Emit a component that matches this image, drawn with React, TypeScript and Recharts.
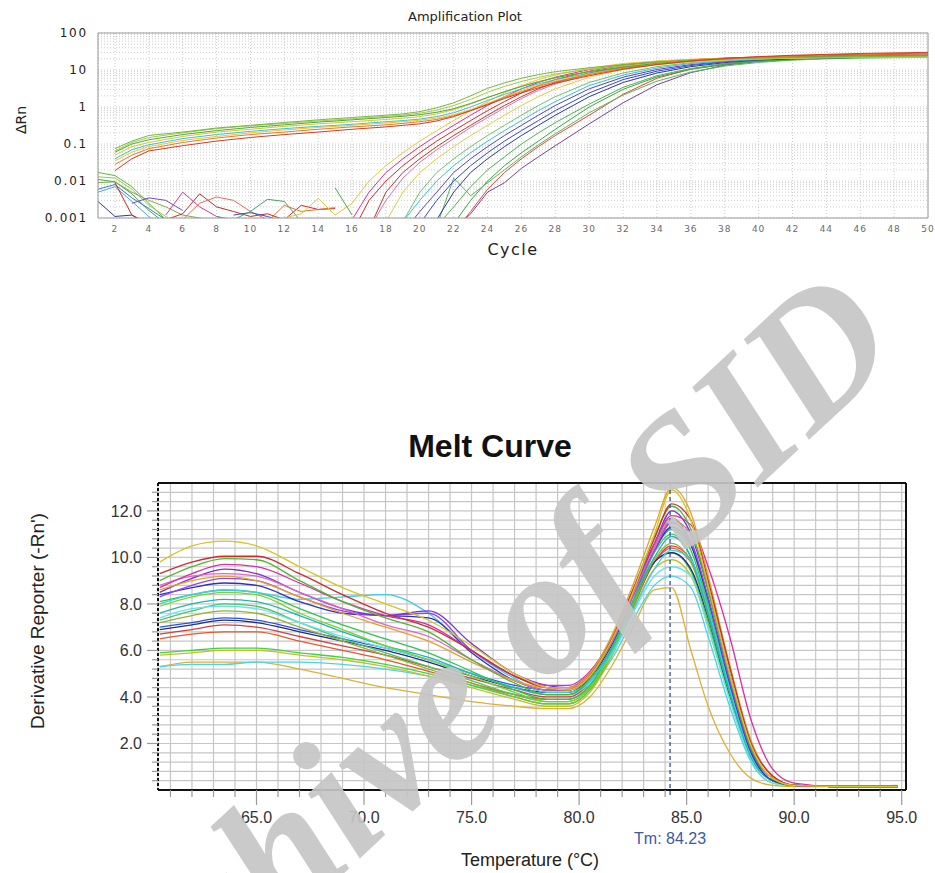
import React from "react";
import { LineChart, Line, XAxis, YAxis, CartesianGrid, ReferenceLine } from "recharts";

// ---------- Amplification plot (ΔRn vs cycle, log scale) ----------
const ampBaseCycles = [2, 3, 4, 6, 8, 10, 12, 14, 16, 18, 19, 20, 21, 22, 23, 24, 25, 26, 27, 28, 30, 32, 34, 36, 38, 40, 42, 44, 46, 48, 50];
const ampExpCycles = [16, 17, 18, 19, 20, 21, 22, 23, 24, 25, 26, 27, 28, 30, 32, 34, 36, 38, 40, 42, 44, 46, 48, 50];
const ampNoiseCycles = [1, 2, 3, 4, 5, 6, 7, 8, 9, 10, 11, 12, 13, 14, 15, 16];

// wells with a raised baseline (start at cycle 2)
const baseGreen1 = [0.075, 0.12, 0.17, 0.21, 0.27, 0.32, 0.38, 0.45, 0.52, 0.6, 0.65, 0.75, 0.95, 1.3, 2.0, 3.2, 4.5, 6.0, 7.5, 9.0, 11.5, 14, 16.5, 18.5, 20, 21, 22, 22.5, 23, 23.5, 24];
const baseGreen2 = [0.06, 0.1, 0.13, 0.18, 0.23, 0.28, 0.33, 0.39, 0.45, 0.52, 0.56, 0.62, 0.72, 0.9, 1.25, 1.8, 2.6, 3.6, 4.8, 6.2, 9.0, 12, 15, 18, 20, 21.5, 22.5, 23.5, 24, 24.5, 25];
const baseYellow1 = [0.05, 0.085, 0.11, 0.16, 0.21, 0.25, 0.3, 0.35, 0.4, 0.46, 0.5, 0.55, 0.65, 0.85, 1.2, 1.8, 2.6, 3.6, 4.8, 6.2, 9.0, 12.5, 15.5, 18, 19.5, 20.5, 21, 21.5, 22, 22, 22.5];
const baseCyan = [0.04, 0.07, 0.095, 0.14, 0.18, 0.22, 0.26, 0.3, 0.34, 0.4, 0.43, 0.47, 0.55, 0.7, 1.0, 1.5, 2.2, 3.1, 4.2, 5.5, 8.2, 11.5, 14.5, 17, 19, 20.5, 21.5, 22, 22.5, 23, 23.5];
const baseYellow2 = [0.035, 0.06, 0.085, 0.125, 0.16, 0.2, 0.24, 0.28, 0.32, 0.37, 0.4, 0.44, 0.5, 0.62, 0.85, 1.25, 1.9, 2.8, 3.9, 5.1, 7.8, 11, 14, 16.5, 18.5, 20, 21, 21.5, 22, 22.5, 22.5];
const baseOrange = [0.028, 0.05, 0.075, 0.11, 0.145, 0.18, 0.21, 0.25, 0.29, 0.33, 0.36, 0.4, 0.46, 0.58, 0.8, 1.2, 1.8, 2.6, 3.6, 4.8, 7.5, 11, 14.5, 17.5, 20, 22, 23.5, 25, 26, 27, 28];
const baseRed = [0.019, 0.04, 0.065, 0.09, 0.12, 0.15, 0.18, 0.21, 0.25, 0.29, 0.32, 0.35, 0.42, 0.55, 0.8, 1.15, 1.7, 2.4, 3.3, 4.4, 7.0, 10.5, 14, 17.5, 20.5, 23, 25, 26.5, 28, 29, 30];
const baseLime = [0.065, 0.11, 0.15, 0.2, 0.26, 0.31, 0.36, 0.42, 0.48, 0.56, 0.6, 0.68, 0.82, 1.1, 1.6, 2.5, 3.6, 4.9, 6.3, 7.8, 10.5, 13, 15.5, 17.5, 19, 20, 21, 21.5, 22, 22.5, 23];

// wells rising out of the noise floor
const expYellow1 = [0.0025, 0.01, 0.026, 0.058, 0.12, 0.23, 0.43, 0.8, 1.4, 2.4, 3.8, 5.5, 7.3, 11.3, 15, 17.5, 19.5, 20.5, 21, 21.5, 22, 22, 22.5, 22.5];
const expMagenta = [0.0009, 0.005, 0.017, 0.04, 0.085, 0.17, 0.32, 0.6, 1.1, 1.9, 3.1, 4.6, 6.4, 10.3, 14, 17, 19, 20.5, 21.5, 22.5, 23, 23.5, 24, 24.5];
const expRed1 = [0.0004, 0.003, 0.01, 0.026, 0.058, 0.12, 0.23, 0.43, 0.8, 1.4, 2.4, 3.8, 5.5, 9.3, 13.2, 16.5, 19, 21, 22.5, 24, 25.5, 26.5, 27.5, 28.5];
const expRed2 = [null, 0.0005, 0.005, 0.017, 0.04, 0.085, 0.17, 0.32, 0.6, 1.1, 1.9, 3.1, 4.6, 8.3, 12.3, 15.8, 18.5, 20.5, 22, 23.5, 24.5, 25.5, 26.5, 27];
const expPink = [null, 0.0005, 0.003, 0.012, 0.032, 0.07, 0.14, 0.28, 0.52, 0.95, 1.7, 2.8, 4.2, 7.8, 11.8, 15.4, 18.2, 20, 21.5, 22.5, 23.5, 24, 24.5, 25];
const expYellow2 = [null, null, 0.0008, 0.005, 0.017, 0.04, 0.085, 0.17, 0.32, 0.6, 1.1, 1.9, 3.1, 6.4, 10.3, 14, 17, 19, 20.5, 21.5, 22, 22.5, 23, 23];
const expCyan = [null, null, null, 0.0008, 0.003, 0.01, 0.026, 0.058, 0.12, 0.23, 0.43, 0.8, 1.4, 3.8, 7.3, 11.3, 15, 17.5, 19.5, 21, 22, 22.5, 23, 23.5];
const expGreen1 = [null, null, null, 0.0008, 0.005, 0.017, 0.04, 0.085, 0.17, 0.32, 0.6, 1.1, 1.9, 4.6, 8.3, 12.3, 15.8, 18.5, 20, 21, 22, 22.5, 23, 23];
const expBlue = [null, null, null, null, 0.0007, 0.003, 0.01, 0.026, 0.058, 0.12, 0.23, 0.43, 0.8, 2.4, 5.5, 9.3, 13.2, 16.5, 19, 20.5, 21.5, 22, 22.5, 23];
const expNavy = [null, null, null, null, null, 0.0009, 0.005, 0.017, 0.04, 0.085, 0.17, 0.32, 0.6, 1.9, 4.6, 8.3, 12.3, 15.8, 18.5, 20, 21, 22, 22.5, 23];
const expViolet = [null, null, null, 0.0004, 0.0015, 0.005, 0.017, 0.04, 0.085, 0.17, 0.32, 0.6, 1.1, 3.1, 6.4, 10.3, 14, 17, 19.5, 21, 22, 22.5, 23, 23.5];
const expGreen2 = [null, null, null, null, null, null, 0.0007, 0.003, 0.01, 0.026, 0.058, 0.12, 0.25, 1.0, 3.0, 6.5, 10.5, 14, 17, 19, 20.5, 21.5, 22, 22.5];
const expGreen3 = [null, null, null, null, null, 0.0006, 0.012, 0.004, 0.009, 0.02, 0.045, 0.095, 0.19, 0.7, 2.1, 5.0, 8.8, 12.8, 16, 18.5, 20, 21, 21.5, 22];
const expGreen4 = [null, null, null, null, null, 0.0006, 0.002, 0.007, 0.02, 0.045, 0.1, 0.2, 0.38, 1.2, 3.4, 7, 11, 14.8, 17.5, 19.5, 21, 22, 22.5, 23];
const expRed3 = [null, null, null, null, null, null, 0.0004, 0.0015, 0.006, 0.017, 0.04, 0.085, 0.17, 0.6, 2.2, 6.0, 10.5, 14.5, 17.5, 19.5, 21, 22, 22.5, 23];
const expPurple = [null, null, null, null, null, null, 0.0005, 0.0013, 0.005, 0.009, 0.022, 0.045, 0.09, 0.35, 1.3, 4.0, 8.5, 13.5, 17, 19.5, 21, 22, 22.5, 23];

// noise near the floor, cycles 1-16
const noiseGreen1 = [0.017, 0.014, 0.007, 0.0025, 0.0009, null, null, null, null, null, null, null, null, null, null, null];
const noiseLime = [0.013, 0.012, 0.006, 0.0022, 0.0011, 0.0006, null, null, null, null, null, null, null, null, null, null];
const noiseGreen2 = [0.011, 0.0095, 0.0045, 0.0016, 0.0007, null, null, null, null, null, null, null, null, null, null, null];
const noiseOlive = [0.009, 0.0095, 0.005, 0.003, 0.002, 0.0012, 0.001, 0.0008, null, null, null, null, null, null, null, null];
const noiseBlue1 = [0.006, 0.008, 0.0035, 0.0018, 0.0009, null, null, null, null, null, null, null, null, null, null, null];
const noiseSky = [0.005, 0.007, 0.0028, 0.0011, 0.0005, null, null, null, null, null, null, null, null, null, null, null];
const noiseNavy = [0.0028, 0.0011, 0.0012, 0.0007, null, null, null, null, null, null, null, null, null, null, null, null];
const noisePurple = [null, null, 0.0025, 0.0035, 0.003, 0.0016, null, null, null, null, null, null, null, null, null, null];
const noiseRed = [null, 0.009, 0.0012, 0.0006, 0.0009, 0.0013, 0.0045, 0.002, 0.0015, 0.0011, 0.0013, 0.0009, 0.0022, 0.0017, 0.0018, null];
const noiseMagenta = [null, null, null, null, 0.0012, 0.005, 0.002, 0.0011, 0.0008, null, null, null, null, null, null, null];
const noiseSalmon = [null, null, null, null, null, 0.0009, 0.0025, 0.0037, 0.003, 0.0015, 0.0009, null, null, null, null, null];
const noiseBlue2 = [null, null, null, null, null, null, null, null, 0.0012, 0.0014, 0.0011, 0.0008, null, null, null, null];
const noiseTeal = [null, null, null, null, null, null, null, 0.0011, 0.0009, 0.0015, 0.0032, 0.0028, 0.0008, null, null, null];
const noiseOrange = [null, null, null, null, null, null, null, null, null, null, 0.0008, 0.0022, 0.0015, 0.0017, 0.0019, null];
const noiseYellow = [null, null, null, null, null, null, null, null, null, null, null, 0.001, 0.0013, 0.0034, 0.0012, 0.0025];
const noiseGreen3 = [null, null, null, null, null, null, null, null, null, null, null, null, null, null, 0.0065, 0.0012];

const ampXTicks = [2, 4, 6, 8, 10, 12, 14, 16, 18, 20, 22, 24, 26, 28, 30, 32, 34, 36, 38, 40, 42, 44, 46, 48, 50];
const ampYTicks = [
  0.001, 0.002, 0.003, 0.004, 0.005, 0.006, 0.007, 0.008, 0.009,
  0.01, 0.02, 0.03, 0.04, 0.05, 0.06, 0.07, 0.08, 0.09,
  0.1, 0.2, 0.3, 0.4, 0.5, 0.6, 0.7, 0.8, 0.9,
  1, 2, 3, 4, 5, 6, 7, 8, 9,
  10, 20, 30, 40, 50, 60, 70, 80, 90, 100,
];
const ampYLabels = [0.001, 0.01, 0.1, 1, 10, 100];

// ---------- Melt curve (-Rn' vs temperature) ----------
const meltTemps = [60.5, 62, 63.5, 65, 67, 69, 71, 73, 75, 77, 78.5, 79.5, 80.5, 81.5, 82.5, 83.5, 84.3, 85.2, 86, 87, 88, 89, 90, 92, 94.8];

const meltYellow1 = [9.8, 10.5, 10.7, 10.5, 9.6, 8.7, 8.0, 7.3, 6.2, 5.0, 4.4, 4.3, 4.9, 6.4, 8.5, 11.0, 12.9, 11.6, 8.8, 5.0, 1.9, 0.5, 0.2, 0.15, 0.15];
const meltRed1 = [9.3, 9.8, 10.05, 10.05, 9.3, 8.4, 7.6, 7.0, 6.0, 4.9, 4.4, 4.3, 4.9, 6.4, 8.6, 10.8, 12.3, 11.6, 9.0, 5.3, 2.0, 0.6, 0.2, 0.15, 0.15];
const meltGreen1 = [9.0, 9.6, 9.95, 9.9, 9.0, 8.1, 7.4, 6.8, 5.6, 4.6, 4.1, 4.1, 4.8, 6.4, 8.6, 10.9, 12.2, 11.2, 8.6, 4.9, 1.8, 0.5, 0.2, 0.15, 0.15];
const meltMagenta = [8.7, 9.3, 9.7, 9.6, 8.9, 8.1, 7.5, 7.1, 6.0, 4.9, 4.5, 4.5, 5.1, 6.5, 8.6, 10.6, 11.8, 11.4, 9.6, 6.6, 3.0, 0.9, 0.3, 0.15, 0.15];
const meltPurple = [8.5, 9.1, 9.5, 9.3, 8.5, 7.8, 7.5, 7.7, 6.3, 5.0, 4.5, 4.4, 5.0, 6.4, 8.5, 10.6, 12.0, 11.0, 8.6, 5.0, 1.8, 0.5, 0.2, 0.15, 0.15];
const meltViolet = [8.3, 8.8, 9.1, 9.0, 8.3, 7.7, 7.5, 7.6, 6.0, 4.9, 4.4, 4.4, 5.0, 6.3, 8.3, 10.3, 11.5, 10.7, 8.3, 4.7, 1.7, 0.5, 0.2, 0.15, 0.15];
const meltBlue1 = [8.4, 8.7, 8.9, 8.8, 8.1, 7.6, 7.5, 7.4, 5.9, 4.7, 4.3, 4.3, 4.9, 6.3, 8.4, 10.3, 11.3, 10.5, 8.2, 4.6, 1.6, 0.4, 0.2, 0.15, 0.15];
const meltCyan1 = [8.0, 8.4, 8.6, 8.5, 8.2, 8.3, 8.4, 7.6, 6.0, 4.8, 4.2, 4.2, 4.7, 5.9, 7.7, 9.5, 10.3, 9.9, 7.8, 4.4, 1.5, 0.4, 0.2, 0.15, 0.15];
const meltPink = [8.8, 9.2, 9.3, 9.2, 8.5, 7.8, 7.1, 6.6, 5.6, 4.7, 4.3, 4.3, 4.9, 6.3, 8.4, 10.4, 11.6, 11.0, 8.8, 5.3, 2.1, 0.6, 0.2, 0.15, 0.15];
const meltGreen2 = [8.1, 8.4, 8.6, 8.5, 7.8, 7.1, 6.5, 5.9, 5.1, 4.3, 3.9, 3.9, 4.5, 6.0, 8.1, 10.3, 11.2, 10.3, 7.9, 4.4, 1.5, 0.4, 0.2, 0.15, 0.15];
const meltLime = [7.9, 8.3, 8.5, 8.4, 7.6, 6.9, 6.2, 5.6, 4.9, 4.2, 3.8, 3.8, 4.4, 5.9, 8.1, 10.5, 11.7, 10.6, 8.0, 4.5, 1.6, 0.4, 0.2, 0.15, 0.15];
const meltTeal = [7.6, 8.0, 8.2, 8.1, 7.5, 6.8, 6.2, 5.7, 5.0, 4.4, 4.1, 4.1, 4.7, 6.1, 8.1, 10.0, 10.9, 10.0, 7.6, 4.2, 1.4, 0.4, 0.2, 0.15, 0.15];
const meltCyan2 = [7.4, 7.8, 7.9, 7.8, 7.2, 6.6, 6.1, 5.6, 5.0, 4.4, 4.1, 4.1, 4.6, 5.8, 7.6, 9.2, 9.6, 9.2, 7.0, 3.9, 1.3, 0.3, 0.2, 0.15, 0.15];
const meltBlue2 = [7.0, 7.2, 7.4, 7.3, 6.9, 6.5, 6.1, 5.6, 5.0, 4.5, 4.3, 4.3, 4.9, 6.3, 8.4, 10.5, 11.5, 10.6, 8.2, 4.7, 1.7, 0.5, 0.2, 0.15, 0.15];
const meltNavy = [6.9, 7.1, 7.3, 7.2, 6.8, 6.4, 6.0, 5.5, 4.9, 4.4, 4.2, 4.2, 4.8, 6.2, 8.1, 9.8, 10.2, 9.5, 7.4, 4.1, 1.4, 0.4, 0.2, 0.15, 0.15];
const meltRed2 = [6.7, 6.9, 7.1, 7.0, 6.6, 6.2, 5.8, 5.3, 4.8, 4.3, 4.0, 4.0, 4.6, 6.0, 7.9, 9.8, 10.5, 9.9, 7.8, 4.5, 1.6, 0.4, 0.2, 0.15, 0.15];
const meltOrangeRed = [6.5, 6.7, 6.8, 6.8, 6.4, 6.0, 5.6, 5.1, 4.6, 4.1, 3.9, 3.9, 4.5, 5.9, 7.9, 9.8, 10.4, 9.8, 7.7, 4.4, 1.6, 0.4, 0.2, 0.15, 0.15];
const meltGreen3 = [5.9, 6.0, 6.1, 6.1, 5.9, 5.7, 5.4, 5.0, 4.5, 4.0, 3.7, 3.7, 4.3, 5.8, 7.8, 9.8, 10.2, 9.4, 7.2, 4.0, 1.4, 0.4, 0.2, 0.15, 0.15];
const meltYellowGreen = [5.8, 5.9, 6.0, 6.0, 5.8, 5.6, 5.3, 4.9, 4.4, 3.9, 3.6, 3.6, 4.2, 5.7, 7.7, 9.5, 9.9, 9.2, 7.0, 3.9, 1.3, 0.3, 0.2, 0.15, 0.15];
const meltCyan3 = [5.3, 5.4, 5.4, 5.5, 5.5, 5.4, 5.2, 4.9, 4.5, 4.1, 3.9, 3.9, 4.4, 5.6, 7.3, 8.8, 9.2, 8.7, 6.6, 3.6, 1.2, 0.3, 0.2, 0.15, 0.2];
const meltGold = [5.3, 5.5, 5.5, 5.5, 5.2, 4.8, 4.4, 4.1, 3.8, 3.6, 3.5, 3.5, 4.0, 5.3, 7.0, 8.6, 8.7, 6.0, 3.6, 1.6, 0.5, 0.2, 0.15, 0.15, 0.15];
const meltGreen4 = [7.3, 7.7, 8.0, 7.9, 7.2, 6.5, 5.9, 5.3, 4.7, 4.1, 3.8, 3.8, 4.4, 5.9, 8.0, 10.2, 11.0, 10.0, 7.6, 4.2, 1.4, 0.4, 0.2, 0.15, 0.15];
const meltOrange = [8.6, 9.0, 9.2, 9.0, 8.3, 7.6, 7.0, 6.4, 5.5, 4.7, 4.4, 4.4, 5.0, 6.6, 8.8, 11.3, 13.0, 11.9, 9.2, 5.4, 2.1, 0.6, 0.2, 0.15, 0.15];
const meltOlive = [7.2, 7.5, 7.7, 7.6, 7.0, 6.4, 5.8, 5.2, 4.6, 4.0, 3.7, 3.7, 4.3, 5.8, 7.9, 9.9, 10.6, 9.8, 7.5, 4.2, 1.4, 0.4, 0.2, 0.15, 0.15];

const meltXTicks = [61, 62, 63, 64, 65, 66, 67, 68, 69, 70, 71, 72, 73, 74, 75, 76, 77, 78, 79, 80, 81, 82, 83, 84, 85, 86, 87, 88, 89, 90, 91, 92, 93, 94, 95];
const meltYTicks = [0.4, 0.8, 1.2, 1.6, 2, 2.4, 2.8, 3.2, 3.6, 4, 4.4, 4.8, 5.2, 5.6, 6, 6.4, 6.8, 7.2, 7.6, 8, 8.4, 8.8, 9.2, 9.6, 10, 10.4, 10.8, 11.2, 11.6, 12, 12.4, 12.8];
const tmValue = 84.23;

type Series = { xs: number[]; ys: (number | null)[]; color: string };

const ampSeries: Series[] = [
  { xs: ampNoiseCycles, ys: noiseGreen1, color: "#5cb83a" },
  { xs: ampNoiseCycles, ys: noiseLime, color: "#94d040" },
  { xs: ampNoiseCycles, ys: noiseGreen2, color: "#44a848" },
  { xs: ampNoiseCycles, ys: noiseOlive, color: "#7cae3c" },
  { xs: ampNoiseCycles, ys: noiseBlue1, color: "#3a78d0" },
  { xs: ampNoiseCycles, ys: noiseSky, color: "#48a8e0" },
  { xs: ampNoiseCycles, ys: noiseNavy, color: "#2a3a9a" },
  { xs: ampNoiseCycles, ys: noisePurple, color: "#7a48c0" },
  { xs: ampNoiseCycles, ys: noiseRed, color: "#c82a2a" },
  { xs: ampNoiseCycles, ys: noiseMagenta, color: "#d83a98" },
  { xs: ampNoiseCycles, ys: noiseSalmon, color: "#e86a5a" },
  { xs: ampNoiseCycles, ys: noiseBlue2, color: "#3050c8" },
  { xs: ampNoiseCycles, ys: noiseTeal, color: "#3aa86a" },
  { xs: ampNoiseCycles, ys: noiseOrange, color: "#e8702a" },
  { xs: ampNoiseCycles, ys: noiseYellow, color: "#e0c43a" },
  { xs: ampNoiseCycles, ys: noiseGreen3, color: "#4aa84a" },
  { xs: ampExpCycles, ys: expPurple, color: "#7a3eb0" },
  { xs: ampExpCycles, ys: expRed3, color: "#e0483a" },
  { xs: ampExpCycles, ys: expGreen2, color: "#3aa83a" },
  { xs: ampExpCycles, ys: expGreen3, color: "#5ab85a" },
  { xs: ampExpCycles, ys: expGreen4, color: "#48b848" },
  { xs: ampExpCycles, ys: expNavy, color: "#2a3aa0" },
  { xs: ampExpCycles, ys: expBlue, color: "#3448d0" },
  { xs: ampExpCycles, ys: expViolet, color: "#5a44c0" },
  { xs: ampExpCycles, ys: expGreen1, color: "#6ac46a" },
  { xs: ampExpCycles, ys: expCyan, color: "#36c0e0" },
  { xs: ampExpCycles, ys: expYellow2, color: "#e4cc40" },
  { xs: ampExpCycles, ys: expPink, color: "#e070b0" },
  { xs: ampExpCycles, ys: expRed2, color: "#b83a2a" },
  { xs: ampExpCycles, ys: expRed1, color: "#d82a22" },
  { xs: ampExpCycles, ys: expMagenta, color: "#e02c90" },
  { xs: ampExpCycles, ys: expYellow1, color: "#e8c838" },
  { xs: ampBaseCycles, ys: baseCyan, color: "#3cc0d8" },
  { xs: ampBaseCycles, ys: baseYellow2, color: "#e8c83c" },
  { xs: ampBaseCycles, ys: baseYellow1, color: "#d6c828" },
  { xs: ampBaseCycles, ys: baseLime, color: "#98d050" },
  { xs: ampBaseCycles, ys: baseGreen2, color: "#4ea83a" },
  { xs: ampBaseCycles, ys: baseGreen1, color: "#78b83c" },
  { xs: ampBaseCycles, ys: baseOrange, color: "#e87a28" },
  { xs: ampBaseCycles, ys: baseRed, color: "#d83a20" },
];

const meltSeries: Series[] = [
  { xs: meltTemps, ys: meltGold, color: "#e0b030" },
  { xs: meltTemps, ys: meltCyan3, color: "#46d6ea" },
  { xs: meltTemps, ys: meltYellowGreen, color: "#bcc424" },
  { xs: meltTemps, ys: meltGreen3, color: "#3ed43e" },
  { xs: meltTemps, ys: meltOrangeRed, color: "#e45a2c" },
  { xs: meltTemps, ys: meltRed2, color: "#d44040" },
  { xs: meltTemps, ys: meltNavy, color: "#1e2e86" },
  { xs: meltTemps, ys: meltBlue2, color: "#2a54e4" },
  { xs: meltTemps, ys: meltOlive, color: "#92b234" },
  { xs: meltTemps, ys: meltGreen4, color: "#52c262" },
  { xs: meltTemps, ys: meltCyan2, color: "#64e2f2" },
  { xs: meltTemps, ys: meltTeal, color: "#1eb4b4" },
  { xs: meltTemps, ys: meltLime, color: "#74d42c" },
  { xs: meltTemps, ys: meltGreen2, color: "#2ec452" },
  { xs: meltTemps, ys: meltCyan1, color: "#3ccfe4" },
  { xs: meltTemps, ys: meltBlue1, color: "#2434c8" },
  { xs: meltTemps, ys: meltViolet, color: "#9a44e6" },
  { xs: meltTemps, ys: meltPurple, color: "#7a2ed6" },
  { xs: meltTemps, ys: meltPink, color: "#e464c4" },
  { xs: meltTemps, ys: meltMagenta, color: "#dc2ca8" },
  { xs: meltTemps, ys: meltOrange, color: "#e4a224" },
  { xs: meltTemps, ys: meltGreen1, color: "#4cb832" },
  { xs: meltTemps, ys: meltRed1, color: "#cc2e2e" },
  { xs: meltTemps, ys: meltYellow1, color: "#d8c41c" },
];

const toPoints = (xs: number[], ys: (number | null)[]) => xs.map((x, i) => ({ x, y: ys[i] }));

const AMP_FONT = "DejaVu Sans, sans-serif";
const MELT_FONT = "Liberation Sans, Arial, sans-serif";

function AmpXTick(props: any) {
  const { x, y, payload } = props;
  return (
    <text x={x} y={y + 14} textAnchor="middle" fontSize={9} fill="#6a6a6a" fontFamily={AMP_FONT} letterSpacing={1}>
      {payload.value}
    </text>
  );
}

function AmpYTick(props: any) {
  const { x, y, payload } = props;
  if (!ampYLabels.includes(payload.value)) return <g />;
  return (
    <text x={x - 10} y={y + 4} textAnchor="end" fontSize={12} fill="#222" fontFamily={AMP_FONT} letterSpacing={1.8}>
      {String(payload.value)}
    </text>
  );
}

function MeltXTick(props: any) {
  const { x, y, payload } = props;
  const major = payload.value % 5 === 0;
  return (
    <g>
      <line x1={x} x2={x} y1={y} y2={y + (major ? 15 : 7)} stroke="#9a9a9a" strokeWidth={1.2} />
      {major && (
        <text x={x} y={y + 33} textAnchor="middle" fontSize={16} fill="#333" fontFamily={MELT_FONT}>
          {payload.value.toFixed(1)}
        </text>
      )}
    </g>
  );
}

function MeltYTick(props: any) {
  const { x, y, payload } = props;
  const major = Number.isInteger(payload.value) && payload.value % 2 === 0;
  return (
    <g>
      <line x1={x - (major ? 11 : 6)} x2={x} y1={y} y2={y} stroke="#9a9a9a" strokeWidth={1.2} />
      {major && (
        <text x={x - 16} y={y + 6} textAnchor="end" fontSize={16} fill="#333" fontFamily={MELT_FONT}>
          {payload.value.toFixed(1)}
        </text>
      )}
    </g>
  );
}

// dashed Tm marker running a little past the axis, with its label underneath
function TmMarker(props: any) {
  const { x1, y1, y2 } = props;
  const top = Math.min(y1, y2);
  const bottom = Math.max(y1, y2);
  return (
    <g>
      <line x1={x1} x2={x1} y1={top} y2={bottom + 8} stroke="#2b4fa8" strokeWidth={1.3} strokeDasharray="4 3" />
      <text x={x1} y={bottom + 54} textAnchor="middle" fontSize={16} fill="#3a5aa8" fontFamily={MELT_FONT}>
        {`Tm: ${tmValue}`}
      </text>
    </g>
  );
}

export default function App() {
  return (
    <div style={{ position: "absolute", left: 0, top: 0, width: 935, height: 873, background: "#fff", overflow: "hidden" }}>
      <div style={{ position: "absolute", left: 0, top: 0 }}>
        <LineChart width={935} height={260} margin={{ top: 33, right: 7, bottom: 12, left: 0 }}>
          <CartesianGrid stroke="#cdcdcd" strokeDasharray="1 2" />
          <XAxis
            dataKey="x"
            type="number"
            domain={[1, 50]}
            ticks={ampXTicks}
            interval={0}
            height={30}
            tickSize={0}
            tickMargin={0}
            tickLine={false}
            tick={(p: any) => <AmpXTick {...p} />}
            axisLine={{ stroke: "#9a9a9a" }}
            allowDataOverflow
          />
          <YAxis
            type="number"
            scale="log"
            domain={[0.001, 100]}
            ticks={ampYTicks}
            interval={0}
            width={98}
            tickSize={0}
            tickMargin={0}
            tickLine={false}
            tick={(p: any) => <AmpYTick {...p} />}
            axisLine={{ stroke: "#9a9a9a" }}
            allowDataOverflow
          />
          <ReferenceLine y={100} stroke="#9a9a9a" />
          <ReferenceLine x={50} stroke="#9a9a9a" />
          {ampSeries.map((s, i) => (
            <Line
              key={i}
              data={toPoints(s.xs, s.ys)}
              dataKey="y"
              type="linear"
              stroke={s.color}
              strokeWidth={1}
              dot={false}
              activeDot={false}
              isAnimationActive={false}
            />
          ))}
        </LineChart>
      </div>

      <div style={{ position: "absolute", left: 0, top: 430 }}>
        <LineChart width={935} height={443} margin={{ top: 53, right: 29, bottom: 53, left: 0 }}>
          <CartesianGrid stroke="#c6c6c6" strokeWidth={1.2} />
          <XAxis
            dataKey="x"
            type="number"
            domain={[60.42, 95.2]}
            ticks={meltXTicks}
            interval={0}
            height={30}
            tickSize={0}
            tickMargin={0}
            tickLine={false}
            tick={(p: any) => <MeltXTick {...p} />}
            axisLine={{ stroke: "#111", strokeWidth: 2 }}
            allowDataOverflow
          />
          <YAxis
            type="number"
            domain={[0, 13.2]}
            ticks={meltYTicks}
            interval={0}
            width={158}
            tickSize={0}
            tickMargin={0}
            tickLine={false}
            tick={(p: any) => <MeltYTick {...p} />}
            axisLine={{ stroke: "#111", strokeWidth: 2, strokeDasharray: "3 2" }}
            allowDataOverflow
          />
          <ReferenceLine y={13.2} stroke="#111" strokeWidth={2} />
          <ReferenceLine x={95.2} stroke="#111" strokeWidth={2} />
          {meltSeries.map((s, i) => (
            <Line
              key={i}
              data={toPoints(s.xs, s.ys)}
              dataKey="y"
              type="monotone"
              stroke={s.color}
              strokeWidth={1.3}
              dot={false}
              activeDot={false}
              isAnimationActive={false}
            />
          ))}
          <ReferenceLine x={tmValue} shape={(p: any) => <TmMarker {...p} />} />
        </LineChart>
      </div>

      <svg width={935} height={873} style={{ position: "absolute", left: 0, top: 0, pointerEvents: "none" }}>
        <text x={465} y={21} textAnchor="middle" fontSize={13} fill="#222" fontFamily={AMP_FONT}>
          Amplification Plot
        </text>
        <text x={26} y={120} transform="rotate(-90 26 120)" textAnchor="middle" fontSize={14} fill="#222" fontFamily={AMP_FONT}>
          ΔRn
        </text>
        <text x={513} y={255} textAnchor="middle" fontSize={16} fill="#222" fontFamily={AMP_FONT} letterSpacing={1.5}>
          Cycle
        </text>
        <text x={490} y={457} textAnchor="middle" fontSize={32} fontWeight="bold" fill="#111" fontFamily={MELT_FONT}>
          Melt Curve
        </text>
        <text x={44} y={621} transform="rotate(-90 44 621)" textAnchor="middle" fontSize={19} fill="#222" fontFamily={MELT_FONT}>
          Derivative Reporter (-Rn')
        </text>
        <text x={530} y={866} textAnchor="middle" fontSize={18} fill="#222" fontFamily={MELT_FONT}>
          Temperature (°C)
        </text>
        <text
          x={905}
          y={350}
          transform="rotate(-43 905 350)"
          textAnchor="end"
          fontSize={180}
          fontWeight="bold"
          fontStyle="italic"
          fill="#c6c6c6"
          opacity={0.92}
          fontFamily="Liberation Serif, serif"
        >
          Archive of SID
        </text>
      </svg>
    </div>
  );
}
